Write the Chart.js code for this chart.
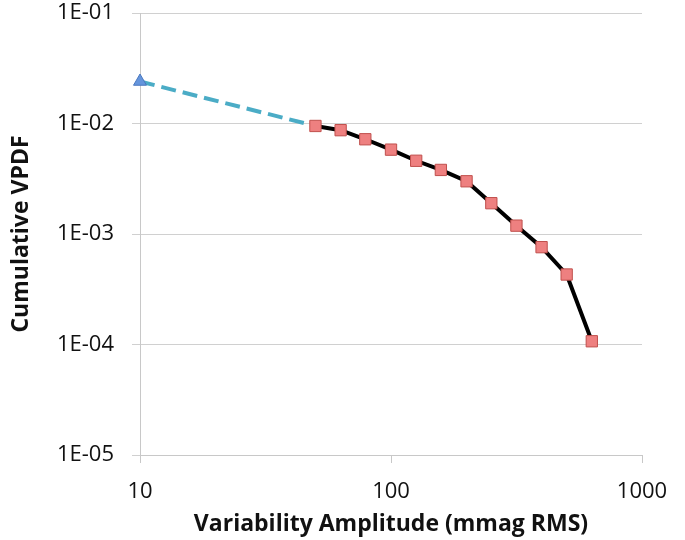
<!DOCTYPE html>
<html>
<head>
<meta charset="utf-8">
<script src="https://cdn.jsdelivr.net/npm/chart.js@4"></script>
<style>
  html, body { margin: 0; padding: 0; background: #fff; }
  #wrap { width: 685px; height: 540px; }
</style>
</head>
<body>
<div id="wrap"><canvas id="vpdfChart" width="685" height="540"></canvas></div>
<script>
// Measured cumulative VPDF (red squares)
const amplitude = [50, 63, 79, 100, 126, 158, 200, 251, 316, 398, 501, 631];
const cumVpdf = [0.0095, 0.0087, 0.0072, 0.0058, 0.0046, 0.0038, 0.0030, 0.0019, 0.00119, 0.00076, 0.00043, 0.000107];

// Extrapolation to low amplitude (blue dashed)
const extrapAmp = [10, 50];
const extrapVpdf = [0.024, 0.0095];

// Axis ticks
const xTicks = [10, 100, 1000];
const yTicks = [1e-5, 1e-4, 1e-3, 1e-2, 1e-1];

const toPoints = (xs, ys) => xs.map((x, i) => ({ x: x, y: ys[i] }));

const fontFamily = "'Open Sans', 'Liberation Sans', sans-serif";

const ctx = document.getElementById('vpdfChart').getContext('2d');
const chart = new Chart(ctx, {
    type: 'scatter',
    data: {
        datasets: [{
            label: 'Cumulative VPDF',
            data: toPoints(amplitude, cumVpdf),
            showLine: true,
            clip: false,
            borderColor: '#000000',
            borderWidth: 4,
            pointStyle: 'rect',
            pointRadius: 8,
            pointBackgroundColor: '#ee8080',
            pointBorderColor: '#c0504d',
            pointBorderWidth: 1
        }, {
            label: 'Extrapolation',
            data: toPoints(extrapAmp, extrapVpdf),
            showLine: true,
            clip: false,
            borderColor: '#4bacc6',
            borderWidth: 4,
            borderDash: [15, 7],
            pointStyle: 'triangle',
            pointRadius: [7.5, 0],
            pointBackgroundColor: '#6595dc',
            pointBorderColor: '#4a78c0',
            pointBorderWidth: 1
        }]
    },
    options: {
        responsive: false,
        animation: false,
        layout: { padding: { top: 13, right: 43, bottom: 0, left: 0 } },
        plugins: {
            legend: { display: false },
            tooltip: { enabled: false }
        },
        scales: {
            x: {
                type: 'logarithmic',
                min: 10,
                max: 1000,
                afterBuildTicks: (s) => { s.ticks = xTicks.map(v => ({ value: v })); },
                afterFit: (s) => { s.height = 85; },
                grid: { drawOnChartArea: false, drawTicks: true, tickLength: 8, color: '#c8c8c8' },
                border: { color: '#c8c8c8' },
                ticks: {
                    color: '#111',
                    padding: 16,
                    maxRotation: 0,
                    font: { family: fontFamily, size: 22 },
                    callback: (v) => String(v)
                },
                title: {
                    display: true,
                    text: 'Variability Amplitude (mmag RMS)',
                    color: '#111',
                    font: { family: fontFamily, size: 23, weight: 'bold' },
                    padding: { top: 0, bottom: 2 }
                }
            },
            y: {
                type: 'logarithmic',
                min: 1e-5,
                max: 1e-1,
                afterBuildTicks: (s) => { s.ticks = yTicks.map(v => ({ value: v })); },
                afterFit: (s) => { s.width = 140; s.paddingTop = 0; s.paddingBottom = 0; },
                grid: { drawTicks: true, tickLength: 8, color: '#d0d0d0' },
                border: { color: '#c8c8c8' },
                ticks: {
                    color: '#111',
                    padding: 18,
                    font: { family: fontFamily, size: 22 },
                    callback: (v) => '1E-0' + Math.round(-Math.log10(v))
                },
                title: {
                    display: true,
                    text: 'Cumulative VPDF',
                    color: '#111',
                    font: { family: fontFamily, size: 23, weight: 'bold' },
                    padding: { top: 8, bottom: 0 }
                }
            }
        }
    }
});
</script>
</body>
</html>
